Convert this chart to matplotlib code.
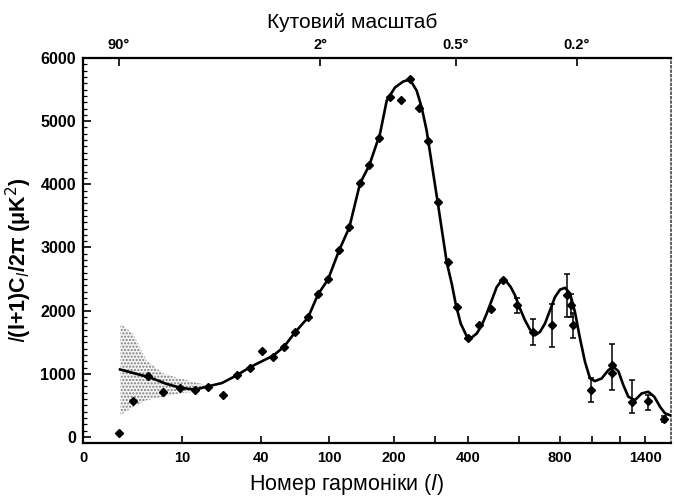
import numpy as np
import matplotlib
matplotlib.use("Agg")
import matplotlib.pyplot as plt
from matplotlib.ticker import FixedLocator, FixedFormatter, MultipleLocator, NullFormatter

plt.rcParams['font.family'] = ['Liberation Sans Narrow', 'Liberation Sans', 'DejaVu Sans']

# ---- axis scale knots (multipole l -> relative position along the printed axis) ----
L_KNOTS = [0, 2, 10, 40, 100, 200, 300, 400, 600, 800, 1000, 1200, 1400, 1700, 2500]
P_KNOTS = [0, 36, 99, 178, 246, 311, 352, 385, 436, 477, 509, 537, 562, 595, 660]

# ---- theory curve ----
theory_l = [2.07, 4.9, 7.15, 9.6, 13.2, 17, 21.8, 27.8, 34.1, 48.3,
            56.4, 65.5, 77.6, 87.8, 98.9, 112.5, 126.4, 142, 156.6, 174.5,
            186.4, 202.1, 220.4, 235.8, 252, 264.5, 277.4, 307.4, 333.3, 348.2,
            361.4, 376.2, 395.6, 412.7, 430.4, 448.6, 467.1, 486.3, 505.9, 526.1,
            543.9, 563.8, 582.4, 604.4, 626.8, 649.9, 673.4, 697.6, 722.2, 747.6,
            773.4, 800, 829.3, 859.3, 890, 921.5, 953.6, 986.6, 1020, 1066.5,
            1113.5, 1150, 1187.3, 1225.4, 1264.3, 1317.6, 1372.5, 1428.3, 1480.8, 1531.6,
            1577.1, 1624]
theory_v = [1069, 943, 844, 781, 750, 802, 854, 975, 1105, 1289,
            1431, 1656, 1892, 2259, 2495, 2951, 3318, 4014, 4303, 4800,
            5324, 5534, 5629, 5660, 5482, 5218, 4850, 3717, 2769, 2428,
            2085, 1796, 1596, 1575, 1638, 1769, 1954, 2164, 2374, 2480,
            2469, 2374, 2243, 2033, 1848, 1701, 1611, 1664, 1796, 2006,
            2216, 2333, 2362, 2275, 1975, 1559, 1190, 927, 885, 927,
            1058, 1111, 1043, 821, 637, 585, 690, 716, 637, 479,
            374, 345]

# ---- measured points (no visible error bars) ----
data_l = [2, 3.07, 4.7, 6.7, 9.6, 13.2, 17.1, 22.3, 27.8, 34.1, 40.4, 48.3, 56.4, 65.5,
          77.6, 87.8, 98.9, 112.5, 126.4, 142, 156.6, 173.3, 192.5, 214.5, 235.8, 258.5,
          281.8, 307.4, 337.9, 365.5, 401, 439.6, 482.4, 532.6, 1139]
data_v = [60, 566, 959, 712, 781, 739, 791, 671, 975, 1090, 1368, 1260, 1420, 1656,
          1892, 2264, 2500, 2956, 3318, 4014, 4308, 4733, 5387, 5335, 5667, 5209,
          4686, 3717, 2769, 2058, 1575, 1769, 2033, 2491, 1006]

# ---- measured points with error bars ----
err_l = [592.3, 665.3, 756.3, 839.4, 865.5, 879.5, 991.3, 1139, 1291, 1428, 1570]
err_v = [2085, 1664, 1769, 2243, 2085, 1770, 742, 1137, 558, 569, 280]
err_lo = [120, 210, 343, 343, 185, 200, 185, 395, 184, 142, 50]
err_hi = [120, 210, 343, 343, 185, 200, 185, 340, 342, 94, 50]

# ---- cosmic variance band ----
band_l = [2.1, 3.1, 4.5, 6.7, 9.6, 13.2, 17]
band_hi = [1790, 1635, 1210, 1006, 928, 865, 820]
band_lo = [346, 476, 582, 634, 692, 712, 790]

# ---- ticks ----
x_label_ticks = [0, 10, 40, 100, 200, 400, 800, 1400]
x_minor_ticks = [300, 600, 1000, 1200]
top_ticks = [2, 90, 360, 900]
top_labels = ['90°', '2°', '0.5°', '0.2°']

U_K = np.cbrt(np.array(L_KNOTS, float))
P_K = np.array(P_KNOTS, float)


def fwd(l):
    l = np.asarray(l, float)
    return np.interp(np.cbrt(np.clip(l, 0, None)), U_K, P_K)


def inv(p):
    p = np.asarray(p, float)
    return np.interp(p, P_K, U_K) ** 3


XMAX = 1633
fig = plt.figure(figsize=(6.74, 4.99), dpi=100)
ax = fig.add_axes([83 / 674, 56 / 499, 588 / 674, 385 / 499])
ax.set_xscale('function', functions=(fwd, inv))
ax.set_xlim(0, XMAX)
ax.set_ylim(-95, 6000)

ax.fill_between(band_l, band_lo, band_hi, facecolor='#f4f4f4', edgecolor='#7a7a7a',
                hatch='.....', linewidth=0, zorder=1)
ax.plot(theory_l, theory_v, color='black', lw=1.9, zorder=3, solid_joinstyle='round')
ax.plot(data_l, data_v, linestyle='none', marker='D', ms=3.6, color='black', zorder=4)
ax.errorbar(err_l, err_v, yerr=[err_lo, err_hi], fmt='D', ms=3.6, color='black',
            ecolor='black', elinewidth=1.1, capsize=2.5, capthick=1.1, zorder=4)

ax.xaxis.set_major_locator(FixedLocator(x_label_ticks))
ax.xaxis.set_minor_locator(FixedLocator(x_minor_ticks))
ax.xaxis.set_major_formatter(FixedFormatter([str(t) for t in x_label_ticks]))
ax.xaxis.set_minor_formatter(NullFormatter())
ax.yaxis.set_major_locator(MultipleLocator(1000))
ax.yaxis.set_minor_locator(MultipleLocator(100))

ax.tick_params(axis='x', which='both', direction='in', length=5, width=1.2, top=False,
               labelsize=10.5, pad=6)
ax.tick_params(axis='y', which='major', direction='in', length=6, width=1.2,
               labelsize=11.5, pad=5)
ax.tick_params(axis='y', which='minor', direction='in', length=3, width=0.9)
for lab in ax.get_xticklabels() + ax.get_yticklabels():
    lab.set_fontweight('bold')

for s in ax.spines.values():
    s.set_linewidth(1.6)
ax.spines['right'].set_linestyle(':')
ax.spines['right'].set_linewidth(1.2)
ax.spines['right'].set_color('#444444')

ax.set_xlabel('Номер гармоніки ($\\mathit{l}$)', fontsize=15.5)
ax.xaxis.set_label_coords(0.449, -0.072)
ax.set_ylabel('$\\mathit{l}$(l+1)C$_{\\mathit{l}}$/2π (μK$^2$)', fontsize=15.5,
              fontweight='bold')
ax.yaxis.set_label_coords(-0.083, 0.475)

top = ax.twiny()
top.set_xscale('function', functions=(fwd, inv))
top.set_xlim(0, XMAX)
top.xaxis.set_major_locator(FixedLocator(top_ticks))
top.xaxis.set_major_formatter(FixedFormatter(top_labels))
top.xaxis.set_minor_locator(FixedLocator([]))
top.tick_params(axis='x', direction='in', length=6, width=1.2, labelsize=10.5, pad=4)
for lab in top.get_xticklabels():
    lab.set_fontweight('bold')
for s in top.spines.values():
    s.set_visible(False)
top.set_xlabel('Кутовий масштаб', fontsize=15)
top.xaxis.set_label_coords(0.457, 1.078)

fig.savefig('out.png', dpi=100)
